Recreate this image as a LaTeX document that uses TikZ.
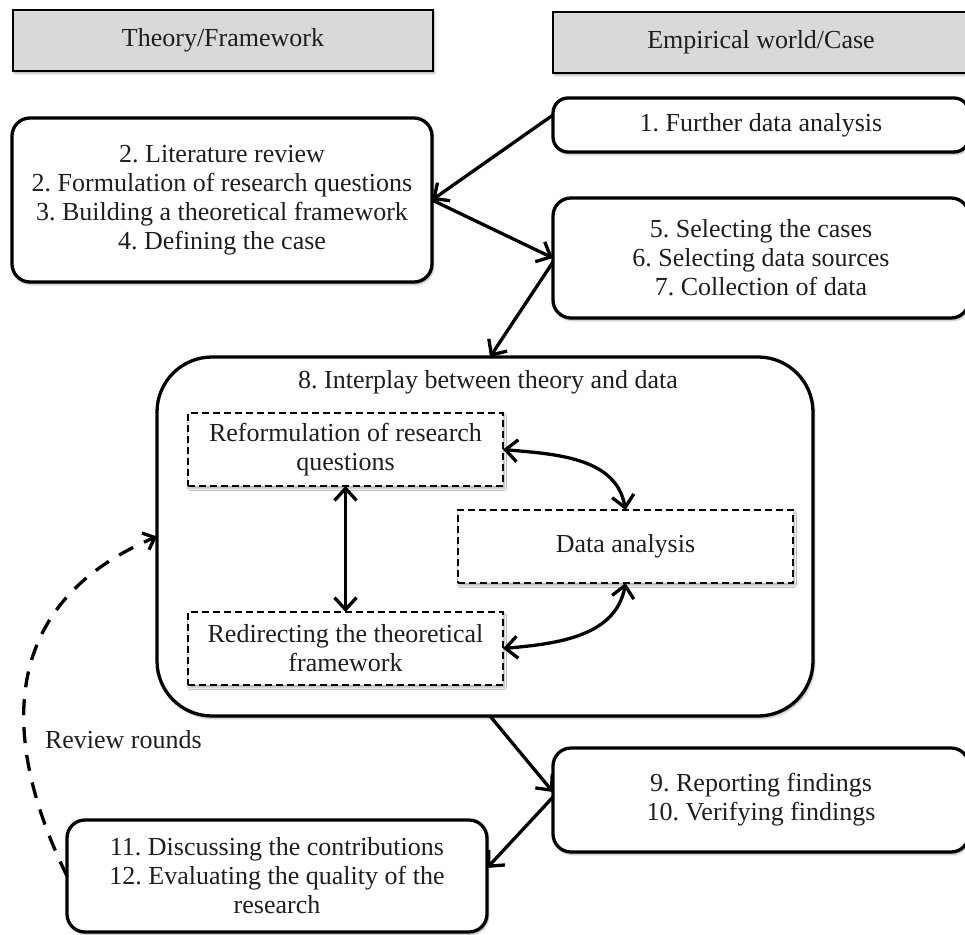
\documentclass[tikz,border=0pt]{standalone}
\usepackage{fontspec}
\setmainfont{Liberation Serif}
\usetikzlibrary{arrows.meta,shadows.blur}
\definecolor{headgray}{RGB}{217,217,217}
\definecolor{inkgray}{RGB}{30,30,30}
\tikzset{
  barbtip/.tip={Straight Barb[length=12pt,width=22pt,line width=3.3pt]},
  smallbarb/.tip={Straight Barb[length=10pt,width=18pt,line width=3.3pt]}
}
\begin{document}
\frenchspacing
\begin{tikzpicture}[x=1pt,y=-1pt,
  every node/.style={inner sep=0pt, outer sep=0pt, text=inkgray},
  txt/.style={font=\fontsize{26}{29}\selectfont, align=center},
  softshadow/.style={blur shadow={shadow blur steps=6, shadow xshift=1.5pt,
      shadow yshift=-2.5pt, shadow opacity=30}},
  headbox/.style={draw=black, line width=1.3pt, fill=headgray, softshadow, txt},
  stagebox/.style={draw=black, line width=3.3pt, rounded corners=18pt, fill=white, softshadow, txt},
  bigbox/.style={draw=black, line width=3.3pt, rounded corners=55pt, fill=white, softshadow},
  dashbox/.style={draw=black, line width=1.3pt, dash pattern=on 7pt off 4pt, fill=white, softshadow, txt},
  flow/.style={line width=3.3pt, draw=black, -{barbtip}},
  both/.style={line width=3.3pt, draw=black, {barbtip}-{barbtip}},
  loopback/.style={line width=3.3pt, draw=black, dash pattern=on 16pt off 12pt, -{smallbarb}}
]
\useasboundingbox (0,0) rectangle (965,934);

% column headers
\node[headbox, minimum width=420pt, minimum height=61pt] (hL) at (223,40.5) {Theory/Framework};
\node[headbox, minimum width=416pt, minimum height=61pt] (hR) at (761,42.5) {Empirical world/Case};

% stages on the empirical side
\node[stagebox, rounded corners=15pt, minimum width=416pt, minimum height=54pt] (b1) at (761,125)
  {1. Further data analysis};
\node[stagebox, minimum width=416pt, minimum height=120pt] (b5) at (761,258)
  {5. Selecting the cases\\6. Selecting data sources\\7. Collection of data};
\node[stagebox, minimum width=416pt, minimum height=104pt] (b9) at (761,800)
  {9. Reporting findings\\10. Verifying findings};

% stages on the theory side
\node[stagebox, minimum width=420pt, minimum height=164pt] (b2) at (222,200)
  {2. Literature review\\2. Formulation of research questions\\3. Building a theoretical framework\\4. Defining the case};
\node[stagebox, minimum width=420pt, minimum height=112pt] (b11) at (277,876)
  {11. Discussing the contributions\\12. Evaluating the quality of the\\research};

% interplay block
\node[bigbox, minimum width=656pt, minimum height=359pt] (b8) at (485,536.5) {};
\node[txt] (b8t) at (488,382) {8. Interplay between theory and data};
\node[dashbox, minimum width=315pt, minimum height=73pt] (rq) at (345.5,449.5)
  {Reformulation of research\\questions};
\node[dashbox, minimum width=335pt, minimum height=73pt] (da) at (625.5,546.5)
  {Data analysis};
\node[dashbox, minimum width=315pt, minimum height=73pt] (rd) at (345.5,648.5)
  {Redirecting the theoretical\\framework};

\node[txt, anchor=west] (rev) at (45,740) {Review rounds};

% connectors
\draw[flow] ([yshift=10pt]b1.west) -- (b2.east);
\draw[flow] (b2.east) -- (b5.west);
\draw[flow] ([yshift=-4pt]b5.west) -- ([xshift=5pt]b8.north);
\draw[both] (rq.south) -- (rd.north);
\draw[both] (rq.east) to[out=-5,in=100] (da.north);
\draw[both] (rd.east) to[out=5,in=-100] (da.south);
\draw[flow] ([xshift=5pt]b8.south) -- ([yshift=8pt]b9.west);
\draw[flow] ([yshift=3pt]b9.west) -- ([yshift=8pt]b11.east);
\draw[loopback] (b11.west) .. controls (30,800) and (-40,620) .. (b8.west);
\end{tikzpicture}
\end{document}
